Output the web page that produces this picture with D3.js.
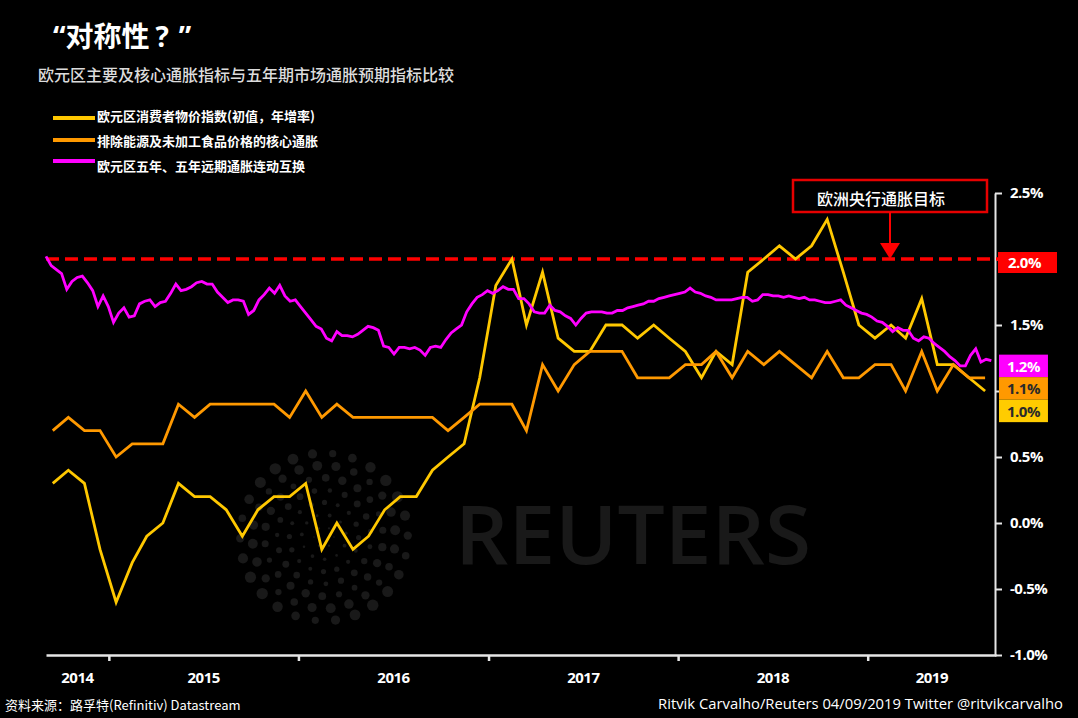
<!DOCTYPE html>
<html><head><meta charset="utf-8">
<script src="https://cdn.jsdelivr.net/npm/d3@7"></script>
<style>body{margin:0;background:#000;} svg{display:block;}</style>
</head><body>
<svg id="c" width="1078" height="718"></svg>
<script>
// ---------- data ----------
const years = ["2014","2015","2016","2017","2018","2019"];
const yTicks = [-1.0,-0.5,0,0.5,1.0,1.5,2.0,2.5];
const yTickLabels = ["-1.0%","-0.5%","0.0%","0.5%","","1.5%","","2.5%"];
const target = 2.0;
const targetLabel = "2.0%";
// monthly, Sep 2014 .. Aug 2019
const firstMonth = new Date(2014, 8, 15);
const cpi = [0.3,0.4,0.3,-0.2,-0.6,-0.3,-0.1,0.0,0.3,0.2,0.2,0.1,-0.1,0.1,0.2,0.2,0.3,-0.2,0.0,-0.2,
  -0.1,0.1,0.2,0.2,0.4,0.5,0.6,1.1,1.8,2.0,1.5,1.9,1.4,1.3,1.3,1.5,1.5,1.4,1.5,1.4,
  1.3,1.1,1.3,1.2,1.9,2.0,2.1,2.0,2.1,2.3,1.9,1.5,1.4,1.5,1.4,1.7,1.2,1.2,1.1,1.0];
const core = [0.7,0.8,0.7,0.7,0.5,0.6,0.6,0.6,0.9,0.8,0.9,0.9,0.9,0.9,0.9,0.8,1.0,0.8,0.9,0.8,
  0.8,0.8,0.8,0.8,0.8,0.7,0.8,0.9,0.9,0.9,0.7,1.2,1.0,1.2,1.3,1.3,1.3,1.1,1.1,1.1,
  1.2,1.2,1.3,1.1,1.3,1.2,1.3,1.2,1.1,1.3,1.1,1.1,1.2,1.2,1.0,1.3,1.0,1.2,1.1,1.1];
// 5y5y swap, every 10 days from 2 Sep 2014
const swapStart = new Date(2014, 8, 2);
const swapStepDays = 10;
const swap = [2.02,1.95,1.92,1.89,1.77,1.83,1.86,1.87,1.82,1.76,1.64,1.72,1.64,1.52,1.59,1.63,1.56,1.57,1.66,1.68,
  1.69,1.64,1.67,1.68,1.74,1.81,1.76,1.77,1.79,1.82,1.83,1.81,1.81,1.75,1.71,1.67,1.69,1.69,1.68,1.58,
  1.61,1.69,1.73,1.78,1.74,1.80,1.72,1.68,1.69,1.64,1.59,1.54,1.49,1.47,1.40,1.38,1.45,1.42,1.42,1.41,
  1.43,1.46,1.49,1.48,1.46,1.34,1.33,1.28,1.33,1.33,1.32,1.33,1.31,1.27,1.33,1.34,1.33,1.39,1.44,1.47,
  1.50,1.60,1.66,1.71,1.73,1.76,1.74,1.76,1.79,1.77,1.77,1.70,1.70,1.66,1.60,1.59,1.59,1.65,1.61,1.60,
  1.57,1.55,1.50,1.55,1.59,1.60,1.60,1.60,1.59,1.59,1.61,1.61,1.63,1.64,1.65,1.66,1.68,1.68,1.70,1.71,
  1.72,1.73,1.74,1.75,1.78,1.75,1.74,1.72,1.71,1.69,1.69,1.69,1.69,1.70,1.71,1.71,1.68,1.69,1.73,1.73,
  1.72,1.72,1.71,1.72,1.71,1.70,1.71,1.69,1.69,1.68,1.67,1.67,1.68,1.69,1.65,1.63,1.61,1.59,1.58,1.56,
  1.53,1.52,1.49,1.45,1.48,1.46,1.46,1.40,1.38,1.41,1.40,1.36,1.33,1.30,1.26,1.23,1.19,1.19,1.27,1.32,
  1.22,1.24,1.23];
const seriesNames = ["欧元区消费者物价指数(初值，年增率)","排除能源及未加工食品价格的核心通胀","欧元区五年、五年远期通胀连动互换"];
const endLabels = ["1.2%","1.1%","1.0%"];

// ---------- chart ----------
const svg = d3.select("#c");
svg.append("rect").attr("width",1078).attr("height",718).attr("fill","#000");

const x = d3.scaleTime().domain([new Date(2014,8,2), new Date(2019,8,5)]).range([46,996]);
const y = d3.scaleLinear().domain([-1,2.5]).range([655,193]);

const cpiData = cpi.map((v,i)=>({date:d3.timeMonth.offset(firstMonth,i), v}));
const coreData = core.map((v,i)=>({date:d3.timeMonth.offset(firstMonth,i), v}));
const swapData = swap.map((v,i)=>({date:d3.timeDay.offset(swapStart,i*swapStepDays), v}));

// watermark
const wm = svg.append("g");
const cx = 324, cy = 537;
for (let j=0;j<7;j++){
  const r = 10 + 12.3*j;
  const n = Math.max(5, Math.round(2*Math.PI*r/(11+j*1.5)));
  for (let k=0;k<n;k++){
    const a = k/n*2*Math.PI + j*0.4;
    const dr = (1.2 + 0.75*j) * (0.6 + 0.4*Math.abs(Math.sin(a*2+j)));
    wm.append("circle").attr("cx",cx+r*Math.cos(a)).attr("cy",cy+r*Math.sin(a)).attr("r",dr).attr("fill","#191919");
  }
}
wm.append("text").attr("x",455).attr("y",564).attr("textLength",356).attr("lengthAdjust","spacingAndGlyphs")
  .attr("font-family","Open Sans").attr("font-weight",600).attr("font-size",81).attr("fill","#191919").text("REUTERS");

// axes
const axisColor = "#e6e6e6";
const yAxis = svg.append("g").attr("transform","translate(995,0)")
  .call(d3.axisRight(y).tickValues(yTicks).tickSize(7).tickSizeOuter(0).tickPadding(8)
    .tickFormat((d,i)=>yTickLabels[i]));
yAxis.select(".domain").attr("stroke",axisColor).attr("stroke-width",2);
yAxis.selectAll(".tick line").attr("stroke",axisColor).attr("stroke-width",2);
yAxis.selectAll(".tick text").attr("fill","#fff").attr("font-family","Open Sans").attr("font-weight",700)
  .attr("font-size",15).attr("letter-spacing","-0.5");

const yearStarts = years.slice(1).map(s=>new Date(+s,0,1));
const xAxis = svg.append("g").attr("transform","translate(0,655)")
  .call(d3.axisBottom(x).tickValues(yearStarts).tickSize(6).tickSizeOuter(0).tickFormat(""));
xAxis.select(".domain").attr("stroke",axisColor).attr("stroke-width",2.5);
xAxis.selectAll(".tick line").attr("stroke",axisColor).attr("stroke-width",2.5);
svg.append("g").selectAll("text").data(years).join("text")
  .attr("x",d=>{const a=Math.max(x(new Date(+d,0,1)),x.range()[0]); const b=Math.min(x(new Date(+d+1,0,1)),x.range()[1]); return (a+b)/2;})
  .attr("y",683).attr("text-anchor","middle").attr("fill","#fff").attr("font-family","Open Sans")
  .attr("font-weight",700).attr("font-size",15).attr("letter-spacing","-0.5").text(d=>d);

// target line
svg.append("line").attr("x1",46).attr("x2",998).attr("y1",y(target)).attr("y2",y(target))
  .attr("stroke","#ff0000").attr("stroke-width",3.5).attr("stroke-dasharray","13,6");

// series
const colors = ["#ffc800","#ff9900","#ff00ff"];
const line = d3.line().x(d=>x(d.date)).y(d=>y(d.v));
[cpiData, coreData, swapData].forEach((data,i)=>{
  svg.append("path").datum(data).attr("d",line).attr("fill","none").attr("stroke",colors[i])
    .attr("stroke-width",2.8).attr("stroke-linejoin","miter");
});

// target label box
const tg = svg.append("g");
tg.append("rect").attr("x",998).attr("y",y(target)-7).attr("width",59).attr("height",21).attr("fill","#ff0000");
tg.append("text").attr("x",1008).attr("y",y(target)+9).attr("fill","#fff").attr("font-family","Open Sans")
  .attr("font-weight",700).attr("font-size",15).attr("letter-spacing","-0.5").text(targetLabel);

// end labels
const lastVals = [swap[swap.length-1], core[core.length-1], cpi[cpi.length-1]];
const boxCols = ["#ff00ff","#ff9900","#ffcc00"];
const txtCols = ["#fff","#2a2a2a","#2a2a2a"];
let prevBottom = -Infinity;
lastVals.forEach((v,i)=>{
  let top = y(v) - 6;
  if (top < prevBottom) top = prevBottom;
  prevBottom = top + 22.5;
  const g = svg.append("g");
  const t = g.append("text").attr("x",1007).attr("y",top+17).attr("fill",txtCols[i]).attr("font-family","Open Sans")
    .attr("font-weight",700).attr("font-size",15).attr("letter-spacing","-0.5").text(endLabels[i]);
  const w = t.node().getComputedTextLength();
  g.insert("rect","text").attr("x",999).attr("y",top).attr("width",w+16).attr("height",22.5).attr("fill",boxCols[i]);
});

// annotation
svg.append("rect").attr("x",793).attr("y",180).attr("width",194).attr("height",32).attr("fill","#000")
  .attr("stroke","#e60000").attr("stroke-width",2.5);
svg.append("text").attr("x",881).attr("y",205).attr("text-anchor","middle").attr("fill","#fff")
  .attr("font-family","Noto Sans CJK SC").attr("font-weight",500).attr("font-size",16).text("欧洲央行通胀目标");
svg.append("line").attr("x1",890).attr("x2",890).attr("y1",212).attr("y2",245).attr("stroke","#ff0000").attr("stroke-width",2);
svg.append("path").attr("d",`M880,243L900,243L890,${y(target)}Z`).attr("fill","#ff0000");

// titles
const title = svg.append("text").attr("x",53).attr("y",47).attr("fill","#fff").attr("font-weight",700).attr("font-size",28)
  .attr("font-family","Noto Sans CJK SC");
title.append("tspan").attr("font-family","Open Sans").text("“");
title.append("tspan").text("对称性");
title.append("tspan").attr("font-family","Open Sans").attr("dx",6).text("?");
title.append("tspan").attr("font-family","Open Sans").attr("dx",10).text("”");
svg.append("text").attr("x",38).attr("y",81).attr("fill","#dcdcdc").attr("font-family","Noto Sans CJK SC")
  .attr("font-weight",500).attr("font-size",16).text("欧元区主要及核心通胀指标与五年期市场通胀预期指标比较");

// legend
const legY = [118,140,161], legTY = [121,146,171];
seriesNames.forEach((s,i)=>{
  svg.append("line").attr("x1",53).attr("x2",95).attr("y1",legY[i]).attr("y2",legY[i]).attr("stroke",colors[i]).attr("stroke-width",4);
  svg.append("text").attr("x",97).attr("y",legTY[i]).attr("fill","#fff").attr("font-family","Noto Sans CJK SC")
    .attr("font-weight",700).attr("font-size",13).text(s);
});

// footer
svg.append("text").attr("x",5).attr("y",710).attr("fill","#fff").attr("font-family","Noto Sans CJK SC")
  .attr("font-size",13).text("资料来源：路孚特(Refinitiv) Datastream");
svg.append("text").attr("x",658).attr("y",709).attr("textLength",405).attr("lengthAdjust","spacingAndGlyphs")
  .attr("fill","#fff").attr("font-family","Open Sans").attr("font-size",14).text("Ritvik Carvalho/Reuters 04/09/2019 Twitter @ritvikcarvalho");
</script>
</body></html>
